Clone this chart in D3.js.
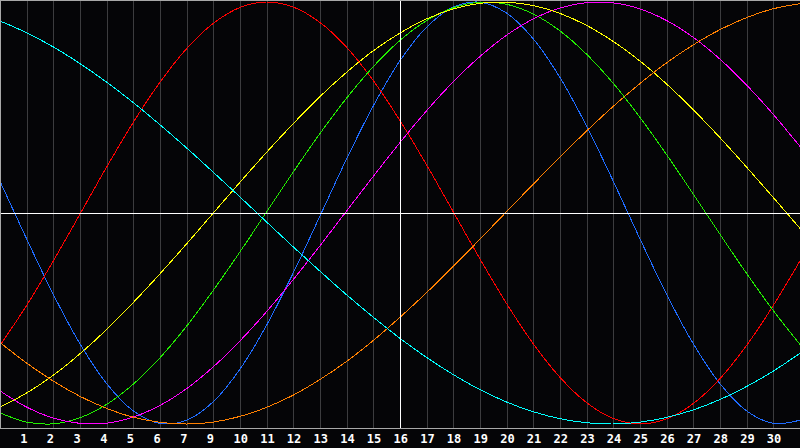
<!DOCTYPE html>
<html>
<head>
<meta charset="utf-8">
<script src="https://cdn.jsdelivr.net/npm/d3@7/dist/d3.min.js"></script>
<style>
  html, body { margin: 0; padding: 0; background: #050507; }
  svg { display: block; }
</style>
</head>
<body>
<svg id="chart"></svg>
<script>
// day labels under the grid (there is no "8" in the original)
const tickLabels = ["1", "2", "3", "4", "5", "6", "7", "9", "10", "11", "12", "13", "14", "15",
  "16", "17", "18", "19", "20", "21", "22", "23", "24", "25", "26", "27", "28", "29", "30"];

// cycle values per day (-1 .. 1)
const physical = [0.150, -0.123, -0.386, -0.620, -0.809, -0.938, -0.997, -0.982, -0.894, -0.740,
  -0.531, -0.283, -0.014, 0.257, 0.508, 0.722, 0.881, 0.976, 0.999, 0.947, 0.825, 0.642, 0.411,
  0.150, -0.123, -0.386, -0.620, -0.809, -0.938, -0.997, -0.982];
const emotional = [-0.627, -0.438, -0.227, -0.005, 0.218, 0.430, 0.620, 0.779, 0.899, 0.974,
  1.000, 0.976, 0.903, 0.785, 0.627, 0.438, 0.227, 0.005, -0.218, -0.430, -0.620, -0.779, -0.899,
  -0.974, -1.000, -0.976, -0.903, -0.785, -0.627, -0.438, -0.227];
const intellectual = [-0.947, -0.991, -0.999, -0.970, -0.907, -0.811, -0.686, -0.536, -0.366,
  -0.184, 0.006, 0.195, 0.377, 0.545, 0.694, 0.818, 0.912, 0.973, 0.999, 0.989, 0.943, 0.863,
  0.752, 0.614, 0.453, 0.276, 0.089, -0.101, -0.287, -0.463, -0.623];
const intuitive = [-0.843, -0.920, -0.972, -0.997, -0.996, -0.967, -0.912, -0.832, -0.729, -0.606,
  -0.467, -0.315, -0.155, 0.010, 0.174, 0.334, 0.485, 0.622, 0.742, 0.843, 0.920, 0.972, 0.997,
  0.996, 0.967, 0.912, 0.832, 0.729, 0.606, 0.467, 0.315];
const aesthetic = [-0.920, -0.853, -0.769, -0.667, -0.552, -0.424, -0.288, -0.146, 0.000, 0.146,
  0.288, 0.424, 0.552, 0.667, 0.769, 0.853, 0.920, 0.967, 0.994, 0.999, 0.983, 0.946, 0.889,
  0.813, 0.720, 0.611, 0.489, 0.357, 0.217, 0.073, -0.073];
const awareness = [-0.614, -0.711, -0.797, -0.869, -0.926, -0.968, -0.992, -1.000, -0.991, -0.964,
  -0.921, -0.863, -0.789, -0.703, -0.604, -0.494, -0.377, -0.253, -0.124, 0.007, 0.137, 0.265,
  0.389, 0.506, 0.614, 0.712, 0.797, 0.869, 0.926, 0.968, 0.992];
const spiritual = [0.910, 0.854, 0.787, 0.708, 0.620, 0.523, 0.418, 0.308, 0.193, 0.076, -0.043,
  -0.161, -0.276, -0.388, -0.494, -0.594, -0.685, -0.766, -0.837, -0.896, -0.942, -0.975, -0.994,
  -1.000, -0.991, -0.969, -0.933, -0.884, -0.822, -0.749, -0.665];

const todayIndex = 15;

const series = [
  { key: "physical", values: physical, color: "#1f6cff" },
  { key: "emotional", values: emotional, color: "#ff0000" },
  { key: "intellectual", values: intellectual, color: "#22ee00" },
  { key: "intuitive", values: intuitive, color: "#ff00ff" },
  { key: "aesthetic", values: aesthetic, color: "#ffff00" },
  { key: "awareness", values: awareness, color: "#ff8000" },
  { key: "spiritual", values: spiritual, color: "#00ffff" },
];

const width = 800,
  height = 448,
  plotBottom = 428;

const svg = d3.select("#chart").attr("width", width).attr("height", height);

// d3 scales
const x = d3.scaleLinear().domain([0, 30]).range([0, width]);
const y = d3.scaleLinear().domain([-1, 1]).range([424, 2]);

svg.append("rect")
  .attr("width", width)
  .attr("height", height)
  .attr("fill", "#050507");

// day grid
const gGrid = svg.append("g").attr("transform", "translate(0," + plotBottom + ")");
gGrid.call(
  d3.axisBottom(x)
    .tickValues(d3.range(1, 30).filter((d) => d !== todayIndex))
    .tickSize(-plotBottom)
    .tickFormat("")
);
gGrid.select(".domain").remove();
gGrid.selectAll("line")
  .attr("stroke", "#3c3c3e")
  .attr("shape-rendering", "crispEdges");

// cycles
const line = d3.line()
  .x((d, i) => x(i))
  .y((d) => y(d))
  .curve(d3.curveCatmullRom);

svg.append("g")
  .selectAll("path")
  .data(series)
  .join("path")
  .attr("d", (d) => line(d.values))
  .attr("fill", "none")
  .attr("stroke", (d) => d.color)
  .attr("stroke-width", 1)
  .attr("shape-rendering", "crispEdges");

// zero line and today marker
svg.append("line")
  .attr("x1", 0).attr("x2", width)
  .attr("y1", y(0) + 0.5).attr("y2", y(0) + 0.5)
  .attr("stroke", "#ffffff")
  .attr("shape-rendering", "crispEdges");

svg.append("line")
  .attr("x1", x(todayIndex)).attr("x2", x(todayIndex))
  .attr("y1", 0).attr("y2", plotBottom)
  .attr("stroke", "#ffffff")
  .attr("shape-rendering", "crispEdges");

// frame
svg.append("path")
  .attr("d", "M0.5," + plotBottom + "V0.5H" + width + "M0," + (plotBottom + 0.5) + "H" + width)
  .attr("fill", "none")
  .attr("stroke", "#a8a8a8")
  .attr("shape-rendering", "crispEdges");

// labels
const gX = svg.append("g").attr("transform", "translate(0," + plotBottom + ")");
gX.call(
  d3.axisBottom(x)
    .tickValues(d3.range(1, 30))
    .tickSize(0)
    .tickPadding(0)
    .tickFormat((d) => tickLabels[d - 1])
);
gX.select(".domain").remove();
gX.selectAll("text")
  .attr("y", 15)
  .attr("dy", 0)
  .attr("dx", -7)
  .style("text-anchor", "start")
  .attr("fill", "#ffffff")
  .style("font-family", "'DejaVu Sans Mono', monospace")
  .style("font-weight", "bold")
  .style("font-size", "12px");
</script>
</body>
</html>
